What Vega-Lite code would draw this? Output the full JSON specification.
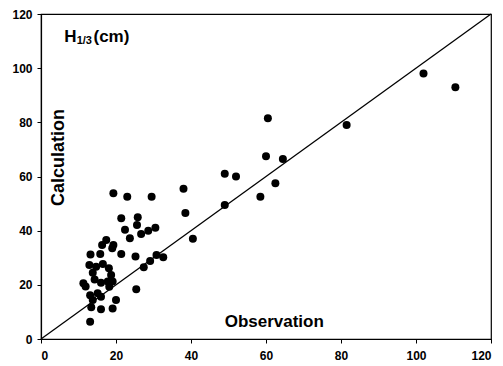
{
  "$schema": "https://vega.github.io/schema/vega-lite/v6.json",
  "width": 450,
  "height": 325,
  "autosize": {"type": "none"},
  "padding": {"left": 41, "top": 14, "right": 12, "bottom": 27},
  "background": "white",
  "config": {
    "view": {"stroke": "black", "strokeWidth": 1.2},
    "font": "Liberation Sans",
    "axis": {
      "grid": false,
      "domainColor": "black",
      "domainWidth": 1.2,
      "tickColor": "black",
      "tickSize": 4,
      "labelFont": "Liberation Sans",
      "labelFontWeight": "bold",
      "labelFontSize": 12,
      "labelColor": "black",
      "title": null
    }
  },
  "datasets": {
    "points": [
      {"obs": 110.5, "calc": 93}, {"obs": 102, "calc": 98}, {"obs": 81.5, "calc": 79},
      {"obs": 60.5, "calc": 81.5}, {"obs": 60, "calc": 67.5}, {"obs": 64.5, "calc": 66.5},
      {"obs": 49, "calc": 61}, {"obs": 52, "calc": 60}, {"obs": 62.5, "calc": 57.5},
      {"obs": 58.5, "calc": 52.5}, {"obs": 49, "calc": 49.5}, {"obs": 38, "calc": 55.5},
      {"obs": 38.5, "calc": 46.5}, {"obs": 40.5, "calc": 37}, {"obs": 29.5, "calc": 52.5},
      {"obs": 19.3, "calc": 53.8}, {"obs": 23, "calc": 52.5}, {"obs": 21.4, "calc": 44.6},
      {"obs": 25.8, "calc": 45}, {"obs": 25.6, "calc": 42.1}, {"obs": 26.7, "calc": 38.8},
      {"obs": 28.6, "calc": 40}, {"obs": 30.5, "calc": 41.1}, {"obs": 22.4, "calc": 40.3},
      {"obs": 23.7, "calc": 37.2}, {"obs": 17.4, "calc": 36.6}, {"obs": 16.3, "calc": 34.7},
      {"obs": 19.3, "calc": 34.7}, {"obs": 19, "calc": 33.5}, {"obs": 13.2, "calc": 31.2},
      {"obs": 15.8, "calc": 31.4}, {"obs": 21.4, "calc": 31.4}, {"obs": 25.2, "calc": 30.5},
      {"obs": 30.8, "calc": 31}, {"obs": 32.6, "calc": 30.2}, {"obs": 29.1, "calc": 28.8},
      {"obs": 27.4, "calc": 26.5}, {"obs": 25.4, "calc": 18.4},
      {"obs": 12.9, "calc": 27.3}, {"obs": 14.7, "calc": 26.7}, {"obs": 16.5, "calc": 27.7},
      {"obs": 18.1, "calc": 26.1}, {"obs": 18.7, "calc": 23.6}, {"obs": 17.8, "calc": 21.2},
      {"obs": 16, "calc": 20.8}, {"obs": 14.3, "calc": 22}, {"obs": 13.8, "calc": 24.5},
      {"obs": 18.2, "calc": 19.3}, {"obs": 19.1, "calc": 21.2}, {"obs": 11.3, "calc": 20.6},
      {"obs": 11.9, "calc": 19.4}, {"obs": 13.1, "calc": 16.2}, {"obs": 15.1, "calc": 16.9},
      {"obs": 16, "calc": 15.6}, {"obs": 13.8, "calc": 14.4}, {"obs": 20, "calc": 14.4},
      {"obs": 13.4, "calc": 11.7}, {"obs": 16, "calc": 11}, {"obs": 19.1, "calc": 11.3},
      {"obs": 13.1, "calc": 6.4}
    ],
    "diag": [{"obs": 0, "calc": 0}, {"obs": 120, "calc": 120}],
    "labels": [
      {"obs": 62.2, "calc": 6.1, "txt": "Observation", "kind": "x"},
      {"obs": 4.9, "calc": 67.0, "txt": "Calculation", "kind": "y"}
    ],
    "title": [
      {"obs": 6.2, "calc": 111.6, "txt": "H", "part": "main"},
      {"obs": 9.5, "calc": 110.0, "txt": "1/3", "part": "sub"},
      {"obs": 14.0, "calc": 111.6, "txt": "(cm)", "part": "main"}
    ]
  },
  "encoding": {
    "x": {"field": "obs", "type": "quantitative", "scale": {"domain": [0, 120], "nice": false},
          "axis": {"values": [0, 20, 40, 60, 80, 100, 120], "labelPadding": 7}},
    "y": {"field": "calc", "type": "quantitative", "scale": {"domain": [0, 120], "nice": false},
          "axis": {"values": [0, 20, 40, 60, 80, 100, 120], "labelPadding": 5}}
  },
  "layer": [
    {
      "data": {"name": "diag"},
      "mark": {"type": "line", "color": "black", "strokeWidth": 1.3}
    },
    {
      "data": {"name": "points"},
      "mark": {"type": "point", "shape": "circle", "filled": true, "color": "black", "opacity": 1, "size": 64}
    },
    {
      "data": {"name": "labels"},
      "transform": [{"filter": "datum.kind == 'x'"}],
      "mark": {"type": "text", "fontSize": 17, "fontWeight": "bold", "color": "black", "align": "center", "baseline": "middle"},
      "encoding": {"text": {"field": "txt"}}
    },
    {
      "data": {"name": "labels"},
      "transform": [{"filter": "datum.kind == 'y'"}],
      "mark": {"type": "text", "fontSize": 18, "fontWeight": "bold", "color": "black", "align": "center", "baseline": "middle", "angle": 270},
      "encoding": {"text": {"field": "txt"}}
    },
    {
      "data": {"name": "title"},
      "transform": [{"filter": "datum.part == 'main'"}],
      "mark": {"type": "text", "fontSize": 17, "fontWeight": "bold", "color": "black", "align": "left", "baseline": "middle"},
      "encoding": {"text": {"field": "txt"}}
    },
    {
      "data": {"name": "title"},
      "transform": [{"filter": "datum.part == 'sub'"}],
      "mark": {"type": "text", "fontSize": 11, "fontWeight": "bold", "color": "black", "align": "left", "baseline": "middle"},
      "encoding": {"text": {"field": "txt"}}
    }
  ]
}
